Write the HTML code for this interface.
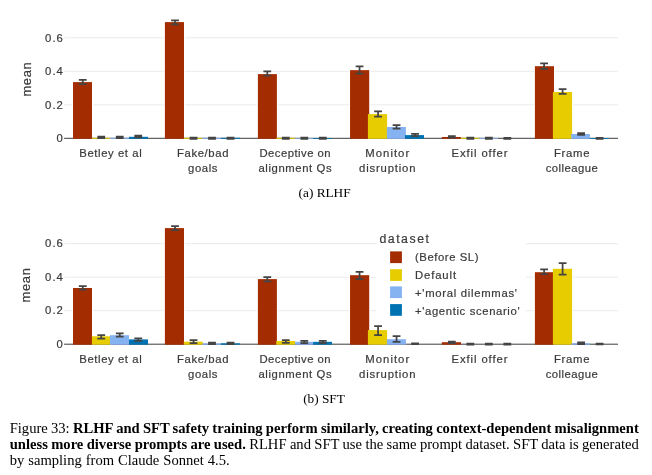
<!DOCTYPE html>
<html><head><meta charset="utf-8"><title>Figure 33</title>
<style>
html,body{margin:0;padding:0;background:#fff;}
body{width:652px;height:475px;overflow:hidden;position:relative;}
svg{position:absolute;left:0;top:0;}
.t{font-family:"Liberation Sans",sans-serif;font-size:11.3px;fill:#3a3a3a;stroke:#3a3a3a;stroke-width:0.2px;}
.yt{font-family:"Liberation Sans",sans-serif;font-size:12.9px;fill:#3a3a3a;stroke:#3a3a3a;stroke-width:0.2px;}
.lt{font-family:"Liberation Sans",sans-serif;font-size:12.3px;fill:#3a3a3a;stroke:#3a3a3a;stroke-width:0.2px;}
.c{font-family:"Liberation Serif",serif;font-size:13.3px;fill:#000;}
.cap{position:absolute;left:9.7px;top:421.1px;width:640px;font-family:"Liberation Serif",serif;font-size:14.6px;line-height:15.8px;color:#000;margin:0;}
.cap div{white-space:nowrap;}
</style></head><body>
<svg width="652" height="475" viewBox="0 0 652 475">
<line x1="64.4" x2="618.0" y1="104.80" y2="104.80" stroke="#ebebeb" stroke-width="1"/>
<line x1="64.4" x2="618.0" y1="71.30" y2="71.30" stroke="#ebebeb" stroke-width="1"/>
<line x1="64.4" x2="618.0" y1="37.80" y2="37.80" stroke="#ebebeb" stroke-width="1"/>
<text class="t" x="62.70" y="142.40" text-anchor="end">0</text>
<text class="t" x="62.80" y="108.90" text-anchor="end" textLength="17.7">0.2</text>
<text class="t" x="62.80" y="75.40" text-anchor="end" textLength="17.7">0.4</text>
<text class="t" x="62.80" y="41.90" text-anchor="end" textLength="17.7">0.6</text>
<rect x="71.90" y="81.00" width="21.20" height="56.70" fill="#fff"/>
<rect x="163.80" y="21.00" width="21.30" height="116.70" fill="#fff"/>
<rect x="256.80" y="73.00" width="21.20" height="64.70" fill="#fff"/>
<rect x="348.95" y="69.05" width="21.35" height="68.65" fill="#fff"/>
<rect x="366.80" y="113.00" width="21.40" height="24.70" fill="#fff"/>
<rect x="385.80" y="125.90" width="21.20" height="11.80" fill="#fff"/>
<rect x="403.90" y="134.00" width="21.20" height="3.70" fill="#fff"/>
<rect x="533.80" y="65.10" width="21.30" height="72.60" fill="#fff"/>
<rect x="551.80" y="90.90" width="21.40" height="46.80" fill="#fff"/>
<rect x="570.10" y="132.90" width="20.90" height="4.80" fill="#fff"/>
<line x1="64.10000000000001" x2="618.0" y1="138.3" y2="138.3" stroke="#3e3e3e" stroke-width="1"/>
<rect x="73.00" y="82.10" width="19.00" height="56.70" fill="#a32c00"/>
<rect x="91.90" y="137.80" width="19.00" height="1.00" fill="#e6cc00"/>
<rect x="109.95" y="137.80" width="19.05" height="1.00" fill="#85b2f0"/>
<rect x="129.00" y="136.80" width="19.00" height="2.00" fill="#0072b2"/>
<rect x="164.90" y="22.10" width="19.10" height="116.70" fill="#a32c00"/>
<rect x="183.80" y="137.80" width="19.00" height="1.00" fill="#e6cc00"/>
<rect x="202.10" y="137.80" width="18.80" height="1.00" fill="#85b2f0"/>
<rect x="220.90" y="137.80" width="19.20" height="1.00" fill="#0072b2"/>
<rect x="257.90" y="74.10" width="19.00" height="64.70" fill="#a32c00"/>
<rect x="276.20" y="137.80" width="18.90" height="1.00" fill="#e6cc00"/>
<rect x="295.10" y="138.00" width="18.00" height="0.80" fill="#85b2f0"/>
<rect x="313.10" y="138.00" width="18.90" height="0.80" fill="#0072b2"/>
<rect x="350.05" y="70.15" width="19.15" height="68.65" fill="#a32c00"/>
<rect x="367.90" y="114.10" width="19.20" height="24.70" fill="#e6cc00"/>
<rect x="386.90" y="127.00" width="19.00" height="11.80" fill="#85b2f0"/>
<rect x="405.00" y="135.10" width="19.00" height="3.70" fill="#0072b2"/>
<rect x="441.80" y="137.00" width="19.20" height="1.80" fill="#a32c00"/>
<rect x="460.50" y="137.80" width="18.90" height="1.00" fill="#e6cc00"/>
<rect x="479.40" y="137.90" width="18.60" height="0.90" fill="#85b2f0"/>
<rect x="534.90" y="66.20" width="19.10" height="72.60" fill="#a32c00"/>
<rect x="552.90" y="92.00" width="19.20" height="46.80" fill="#e6cc00"/>
<rect x="571.20" y="134.00" width="18.70" height="4.80" fill="#85b2f0"/>
<rect x="589.90" y="138.00" width="19.10" height="0.80" fill="#0072b2"/>
<path d="M82.75 79.85V84.00M78.85 79.85H86.65M78.85 84.00H86.65" stroke="#444" stroke-width="1.75" fill="none"/>
<path d="M101.25 136.70V138.10M97.35 136.70H105.15M97.35 138.10H105.15" stroke="#444" stroke-width="1.75" fill="none"/>
<path d="M119.75 136.70V138.10M115.85 136.70H123.65M115.85 138.10H123.65" stroke="#444" stroke-width="1.75" fill="none"/>
<path d="M138.25 135.70V137.30M134.35 135.70H142.15M134.35 137.30H142.15" stroke="#444" stroke-width="1.75" fill="none"/>
<path d="M175.02 20.40V24.40M171.12 20.40H178.92M171.12 24.40H178.92" stroke="#444" stroke-width="1.75" fill="none"/>
<path d="M193.52 137.50V138.90M189.62 137.50H197.42M189.62 138.90H197.42" stroke="#444" stroke-width="1.75" fill="none"/>
<path d="M212.02 137.50V138.90M208.12 137.50H215.92M208.12 138.90H215.92" stroke="#444" stroke-width="1.75" fill="none"/>
<path d="M230.52 137.50V138.90M226.62 137.50H234.42M226.62 138.90H234.42" stroke="#444" stroke-width="1.75" fill="none"/>
<path d="M267.29 71.30V75.70M263.39 71.30H271.19M263.39 75.70H271.19" stroke="#444" stroke-width="1.75" fill="none"/>
<path d="M285.79 137.50V138.90M281.89 137.50H289.69M281.89 138.90H289.69" stroke="#444" stroke-width="1.75" fill="none"/>
<path d="M304.29 137.50V138.90M300.39 137.50H308.19M300.39 138.90H308.19" stroke="#444" stroke-width="1.75" fill="none"/>
<path d="M322.79 137.50V138.90M318.89 137.50H326.69M318.89 138.90H326.69" stroke="#444" stroke-width="1.75" fill="none"/>
<path d="M359.56 66.30V73.60M355.66 66.30H363.46M355.66 73.60H363.46" stroke="#444" stroke-width="1.75" fill="none"/>
<path d="M378.06 111.30V116.50M374.16 111.30H381.96M374.16 116.50H381.96" stroke="#444" stroke-width="1.75" fill="none"/>
<path d="M396.56 125.10V128.50M392.66 125.10H400.46M392.66 128.50H400.46" stroke="#444" stroke-width="1.75" fill="none"/>
<path d="M415.06 133.80V136.00M411.16 133.80H418.96M411.16 136.00H418.96" stroke="#444" stroke-width="1.75" fill="none"/>
<path d="M451.83 136.00V137.60M447.93 136.00H455.73M447.93 137.60H455.73" stroke="#444" stroke-width="1.75" fill="none"/>
<path d="M470.33 137.70V138.90M466.43 137.70H474.23M466.43 138.90H474.23" stroke="#444" stroke-width="1.75" fill="none"/>
<path d="M488.83 137.70V138.90M484.93 137.70H492.73M484.93 138.90H492.73" stroke="#444" stroke-width="1.75" fill="none"/>
<path d="M507.33 137.80V138.90M503.43 137.80H511.23M503.43 138.90H511.23" stroke="#444" stroke-width="1.75" fill="none"/>
<path d="M544.10 63.40V68.80M540.20 63.40H548.00M540.20 68.80H548.00" stroke="#444" stroke-width="1.75" fill="none"/>
<path d="M562.60 89.20V93.80M558.70 89.20H566.50M558.70 93.80H566.50" stroke="#444" stroke-width="1.75" fill="none"/>
<path d="M581.10 133.10V134.80M577.20 133.10H585.00M577.20 134.80H585.00" stroke="#444" stroke-width="1.75" fill="none"/>
<path d="M599.60 137.90V138.80M595.70 137.90H603.50M595.70 138.80H603.50" stroke="#444" stroke-width="1.75" fill="none"/>
<text class="t" x="110.50" y="156.90" text-anchor="middle" textLength="62.4">Betley et al</text>
<text class="t" x="202.75" y="156.90" text-anchor="middle" textLength="51.4">Fake/bad</text>
<text class="t" x="202.75" y="171.80" text-anchor="middle" textLength="29.3">goals</text>
<text class="t" x="295.00" y="156.90" text-anchor="middle" textLength="71.2">Deceptive on</text>
<text class="t" x="295.00" y="171.80" text-anchor="middle" textLength="73.2">alignment Qs</text>
<text class="t" x="387.25" y="156.90" text-anchor="middle" textLength="43.8">Monitor</text>
<text class="t" x="387.25" y="171.80" text-anchor="middle" textLength="56.4">disruption</text>
<text class="t" x="479.50" y="156.90" text-anchor="middle" textLength="55.8">Exfil offer</text>
<text class="t" x="571.75" y="156.90" text-anchor="middle" textLength="35.6">Frame</text>
<text class="t" x="571.75" y="171.80" text-anchor="middle" textLength="52.0">colleague</text>
<text class="yt" transform="translate(30.5,79.4) rotate(-90)" text-anchor="middle" textLength="34.4">mean</text>
<text class="c" x="324.6" y="196.8" text-anchor="middle">(a) RLHF</text>
<line x1="64.4" x2="618.0" y1="310.70" y2="310.70" stroke="#ebebeb" stroke-width="1"/>
<line x1="64.4" x2="618.0" y1="277.20" y2="277.20" stroke="#ebebeb" stroke-width="1"/>
<line x1="64.4" x2="618.0" y1="243.70" y2="243.70" stroke="#ebebeb" stroke-width="1"/>
<text class="t" x="62.70" y="347.80" text-anchor="end">0</text>
<text class="t" x="62.80" y="314.30" text-anchor="end" textLength="17.7">0.2</text>
<text class="t" x="62.80" y="280.80" text-anchor="end" textLength="17.7">0.4</text>
<text class="t" x="62.80" y="247.30" text-anchor="end" textLength="17.7">0.6</text>
<rect x="71.90" y="286.90" width="21.20" height="56.70" fill="#fff"/>
<rect x="90.80" y="335.20" width="21.20" height="8.40" fill="#fff"/>
<rect x="108.85" y="334.10" width="21.25" height="9.50" fill="#fff"/>
<rect x="127.90" y="338.30" width="21.20" height="5.30" fill="#fff"/>
<rect x="163.80" y="227.00" width="21.30" height="116.60" fill="#fff"/>
<rect x="256.80" y="278.00" width="21.20" height="65.60" fill="#fff"/>
<rect x="275.10" y="339.90" width="21.10" height="3.70" fill="#fff"/>
<rect x="348.95" y="274.10" width="21.35" height="69.50" fill="#fff"/>
<rect x="366.80" y="329.00" width="21.40" height="14.60" fill="#fff"/>
<rect x="385.80" y="338.10" width="21.20" height="5.50" fill="#fff"/>
<rect x="533.80" y="271.10" width="21.30" height="72.50" fill="#fff"/>
<rect x="551.80" y="267.70" width="21.40" height="75.90" fill="#fff"/>
<line x1="64.10000000000001" x2="618.0" y1="344.2" y2="344.2" stroke="#3e3e3e" stroke-width="1"/>
<rect x="73.00" y="288.00" width="19.00" height="56.70" fill="#a32c00"/>
<rect x="91.90" y="336.30" width="19.00" height="8.40" fill="#e6cc00"/>
<rect x="109.95" y="335.20" width="19.05" height="9.50" fill="#85b2f0"/>
<rect x="129.00" y="339.40" width="19.00" height="5.30" fill="#0072b2"/>
<rect x="164.90" y="228.10" width="19.10" height="116.60" fill="#a32c00"/>
<rect x="183.80" y="341.70" width="19.00" height="3.00" fill="#e6cc00"/>
<rect x="202.10" y="343.50" width="18.80" height="1.20" fill="#85b2f0"/>
<rect x="220.90" y="343.30" width="19.20" height="1.40" fill="#0072b2"/>
<rect x="257.90" y="279.10" width="19.00" height="65.60" fill="#a32c00"/>
<rect x="276.20" y="341.00" width="18.90" height="3.70" fill="#e6cc00"/>
<rect x="295.10" y="341.80" width="18.00" height="2.90" fill="#85b2f0"/>
<rect x="313.10" y="341.80" width="18.90" height="2.90" fill="#0072b2"/>
<rect x="350.05" y="275.20" width="19.15" height="69.50" fill="#a32c00"/>
<rect x="367.90" y="330.10" width="19.20" height="14.60" fill="#e6cc00"/>
<rect x="386.90" y="339.20" width="19.00" height="5.50" fill="#85b2f0"/>
<rect x="441.80" y="342.20" width="19.20" height="2.50" fill="#a32c00"/>
<rect x="534.90" y="272.20" width="19.10" height="72.50" fill="#a32c00"/>
<rect x="552.90" y="268.80" width="19.20" height="75.90" fill="#e6cc00"/>
<rect x="571.20" y="343.30" width="18.70" height="1.40" fill="#85b2f0"/>
<path d="M82.75 286.20V289.50M78.85 286.20H86.65M78.85 289.50H86.65" stroke="#444" stroke-width="1.75" fill="none"/>
<path d="M101.25 335.00V338.50M97.35 335.00H105.15M97.35 338.50H105.15" stroke="#444" stroke-width="1.75" fill="none"/>
<path d="M119.75 333.30V336.60M115.85 333.30H123.65M115.85 336.60H123.65" stroke="#444" stroke-width="1.75" fill="none"/>
<path d="M138.25 338.30V340.80M134.35 338.30H142.15M134.35 340.80H142.15" stroke="#444" stroke-width="1.75" fill="none"/>
<path d="M175.02 226.00V230.00M171.12 226.00H178.92M171.12 230.00H178.92" stroke="#444" stroke-width="1.75" fill="none"/>
<path d="M193.52 340.20V343.20M189.62 340.20H197.42M189.62 343.20H197.42" stroke="#444" stroke-width="1.75" fill="none"/>
<path d="M212.02 342.60V344.00M208.12 342.60H215.92M208.12 344.00H215.92" stroke="#444" stroke-width="1.75" fill="none"/>
<path d="M230.52 342.60V344.00M226.62 342.60H234.42M226.62 344.00H234.42" stroke="#444" stroke-width="1.75" fill="none"/>
<path d="M267.29 277.00V281.30M263.39 277.00H271.19M263.39 281.30H271.19" stroke="#444" stroke-width="1.75" fill="none"/>
<path d="M285.79 340.10V342.80M281.89 340.10H289.69M281.89 342.80H289.69" stroke="#444" stroke-width="1.75" fill="none"/>
<path d="M304.29 340.90V343.20M300.39 340.90H308.19M300.39 343.20H308.19" stroke="#444" stroke-width="1.75" fill="none"/>
<path d="M322.79 340.90V343.20M318.89 340.90H326.69M318.89 343.20H326.69" stroke="#444" stroke-width="1.75" fill="none"/>
<path d="M359.56 271.90V279.10M355.66 271.90H363.46M355.66 279.10H363.46" stroke="#444" stroke-width="1.75" fill="none"/>
<path d="M378.06 326.10V335.20M374.16 326.10H381.96M374.16 335.20H381.96" stroke="#444" stroke-width="1.75" fill="none"/>
<path d="M396.56 336.20V341.80M392.66 336.20H400.46M392.66 341.80H400.46" stroke="#444" stroke-width="1.75" fill="none"/>
<path d="M415.06 343.30V344.00M411.16 343.30H418.96M411.16 344.00H418.96" stroke="#444" stroke-width="1.75" fill="none"/>
<path d="M451.83 341.70V343.20M447.93 341.70H455.73M447.93 343.20H455.73" stroke="#444" stroke-width="1.75" fill="none"/>
<path d="M470.33 343.70V344.50M466.43 343.70H474.23M466.43 344.50H474.23" stroke="#444" stroke-width="1.75" fill="none"/>
<path d="M488.83 343.70V344.50M484.93 343.70H492.73M484.93 344.50H492.73" stroke="#444" stroke-width="1.75" fill="none"/>
<path d="M507.33 343.70V344.50M503.43 343.70H511.23M503.43 344.50H511.23" stroke="#444" stroke-width="1.75" fill="none"/>
<path d="M544.10 269.30V274.10M540.20 269.30H548.00M540.20 274.10H548.00" stroke="#444" stroke-width="1.75" fill="none"/>
<path d="M562.60 263.20V274.70M558.70 263.20H566.50M558.70 274.70H566.50" stroke="#444" stroke-width="1.75" fill="none"/>
<path d="M581.10 342.30V344.00M577.20 342.30H585.00M577.20 344.00H585.00" stroke="#444" stroke-width="1.75" fill="none"/>
<path d="M599.60 343.60V344.40M595.70 343.60H603.50M595.70 344.40H603.50" stroke="#444" stroke-width="1.75" fill="none"/>
<text class="t" x="110.50" y="362.80" text-anchor="middle" textLength="62.4">Betley et al</text>
<text class="t" x="202.75" y="362.80" text-anchor="middle" textLength="51.4">Fake/bad</text>
<text class="t" x="202.75" y="377.70" text-anchor="middle" textLength="29.3">goals</text>
<text class="t" x="295.00" y="362.80" text-anchor="middle" textLength="71.2">Deceptive on</text>
<text class="t" x="295.00" y="377.70" text-anchor="middle" textLength="73.2">alignment Qs</text>
<text class="t" x="387.25" y="362.80" text-anchor="middle" textLength="43.8">Monitor</text>
<text class="t" x="387.25" y="377.70" text-anchor="middle" textLength="56.4">disruption</text>
<text class="t" x="479.50" y="362.80" text-anchor="middle" textLength="55.8">Exfil offer</text>
<text class="t" x="571.75" y="362.80" text-anchor="middle" textLength="35.6">Frame</text>
<text class="t" x="571.75" y="377.70" text-anchor="middle" textLength="52.0">colleague</text>
<text class="yt" transform="translate(30.0,285.3) rotate(-90)" text-anchor="middle" textLength="34.4">mean</text>
<rect x="376.5" y="228" width="149.5" height="93" fill="#fff"/>
<text class="lt" x="379.4" y="242.9" textLength="49.6">dataset</text>
<rect x="390.1" y="251.4" width="11.8" height="11.7" fill="#a32c00"/>
<rect x="390.1" y="269.2" width="11.8" height="11.7" fill="#e6cc00"/>
<rect x="390.1" y="286.4" width="11.8" height="11.7" fill="#85b2f0"/>
<rect x="390.1" y="304.1" width="11.8" height="11.7" fill="#0072b2"/>
<text class="t" x="415.0" y="261.1" textLength="63.4">(Before SL)</text>
<text class="t" x="414.9" y="279" textLength="41.2">Default</text>
<text class="t" x="415.0" y="296.7" textLength="102.0">+'moral dilemmas'</text>
<text class="t" x="415.0" y="314.6" textLength="104.6">+'agentic scenario'</text>
<text class="c" x="324.0" y="402.9" text-anchor="middle">(b) SFT</text>
</svg>
<div class="cap"><div style="word-spacing:-0.42px">Figure 33: <b>RLHF and SFT safety training perform similarly, creating context-dependent misalignment</b></div>
<div style="word-spacing:-0.28px"><b>unless more diverse prompts are used.</b> RLHF and SFT use the same prompt dataset. SFT data is generated</div>
<div style="word-spacing:0.3px">by sampling from Claude Sonnet 4.5.</div></div>
</body></html>
